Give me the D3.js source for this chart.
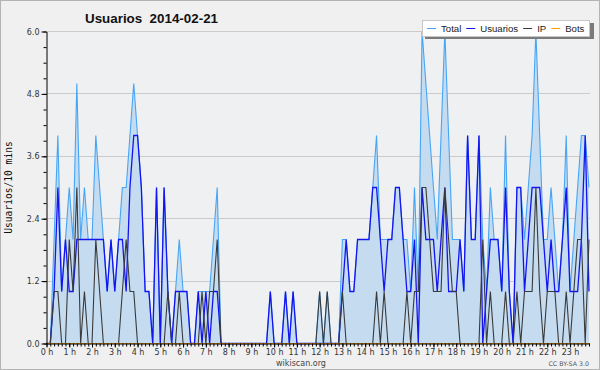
<!DOCTYPE html>
<html>
<head>
<meta charset="utf-8">
<script src="https://cdnjs.cloudflare.com/ajax/libs/d3/7.8.5/d3.min.js"></script>
<style>
    body { margin: 0; background: #f0f0f0; }
</style>
</head>
<body>
<div id="chart"></div>
<script>
// one value per 10 minutes, 2014-02-21 (144 slots)
let total = [
    0, 0, 2, 4, 1, 2, 3, 2, 5, 2, 3, 2,
    2, 4, 3, 2, 1, 2, 1, 2, 3, 3, 4, 5,
    4, 3, 1, 1, 0, 3, 0, 3, 1, 0, 1, 2,
    1, 1, 0, 0, 1, 1, 1, 1, 2, 3, 0, 0,
    0, 0, 0, 0, 0, 0, 0, 0, 0, 0, 0, 1,
    0, 0, 0, 1, 0, 1, 0, 0, 0, 0, 0, 0,
    1, 0, 1, 0, 0, 0, 2, 2, 1, 1, 2, 2,
    2, 2, 3, 4, 2, 2, 2, 2, 3, 3, 2, 2,
    1, 3, 1, 6, 5, 4, 3, 2, 4, 6, 4, 2,
    2, 2, 1, 4, 2, 2, 4, 2, 1, 3, 2, 2,
    1, 4, 1, 0, 3, 3, 2, 3, 4, 6, 4, 2,
    2, 3, 2, 1, 2, 4, 1, 2, 3, 4, 4, 3
]
let usuarios = [
    0, 0, 1, 3, 1, 2, 1, 1, 2, 2, 2, 2,
    2, 2, 2, 2, 1, 2, 1, 2, 2, 1, 3, 4,
    4, 3, 1, 1, 0, 3, 0, 3, 1, 0, 1, 1,
    1, 1, 0, 0, 1, 0, 1, 0, 1, 1, 0, 0,
    0, 0, 0, 0, 0, 0, 0, 0, 0, 0, 0, 1,
    0, 0, 0, 1, 0, 1, 0, 0, 0, 0, 0, 0,
    0, 0, 0, 0, 0, 0, 1, 2, 1, 1, 2, 2,
    2, 2, 3, 3, 2, 1, 2, 2, 3, 3, 2, 1,
    1, 2, 0, 3, 2, 2, 2, 1, 2, 3, 1, 1,
    1, 2, 1, 4, 2, 2, 4, 0, 1, 2, 2, 2,
    1, 3, 1, 0, 3, 3, 1, 2, 3, 3, 3, 2,
    1, 2, 1, 1, 2, 3, 1, 1, 1, 2, 4, 1
]
let ip = [
    0, 0, 1, 1, 0, 0, 2, 1, 3, 0, 1, 0,
    0, 2, 1, 0, 0, 0, 0, 0, 1, 2, 1, 1,
    0, 0, 0, 0, 0, 0, 0, 0, 1, 0, 0, 1,
    0, 0, 0, 0, 0, 1, 0, 1, 1, 2, 0, 0,
    0, 0, 0, 0, 0, 0, 0, 0, 0, 0, 0, 0,
    0, 0, 0, 0, 0, 0, 0, 0, 0, 0, 0, 0,
    1, 0, 1, 0, 0, 0, 1, 0, 0, 0, 0, 0,
    0, 0, 0, 1, 0, 1, 0, 0, 0, 0, 0, 1,
    0, 1, 1, 3, 3, 2, 1, 1, 1, 3, 2, 1,
    1, 0, 0, 0, 0, 0, 0, 2, 0, 1, 0, 0,
    0, 1, 0, 0, 1, 0, 1, 1, 1, 3, 1, 0,
    1, 1, 1, 0, 0, 1, 0, 1, 2, 2, 0, 2
]
let bots = [
    0, 0, 0, 0, 0, 0, 0, 0, 0, 0, 0, 0,
    0, 0, 0, 0, 0, 0, 0, 0, 0, 0, 0, 0,
    0, 0, 0, 0, 0, 0, 0, 0, 0, 0, 0, 0,
    0, 0, 0, 0, 0, 0, 0, 0, 0, 0, 0, 0,
    0, 0, 0, 0, 0, 0, 0, 0, 0, 0, 0, 0,
    0, 0, 0, 0, 0, 0, 0, 0, 0, 0, 0, 0,
    0, 0, 0, 0, 0, 0, 0, 0, 0, 0, 0, 0,
    0, 0, 0, 0, 0, 0, 0, 0, 0, 0, 0, 0,
    0, 0, 0, 0, 0, 0, 0, 0, 0, 0, 0, 0,
    0, 0, 0, 0, 0, 0, 0, 0, 0, 0, 0, 0,
    0, 0, 0, 0, 0, 0, 0, 0, 0, 0, 0, 0,
    0, 0, 0, 0, 0, 0, 0, 0, 0, 0, 0, 0
]
let hourLabels = ['0 h', '1 h', '2 h', '3 h', '4 h', '5 h', '6 h', '7 h', '8 h', '9 h', '10 h', '11 h',
    '12 h', '13 h', '14 h', '15 h', '16 h', '17 h', '18 h', '19 h', '20 h', '21 h', '22 h', '23 h']
let yTicks = [0, 1.2, 2.4, 3.6, 4.8, 6.0]
let seriesNames = ['Total', 'Usuarios', 'IP', 'Bots']
let seriesColors = ['#46a5f5', '#1414f0', '#3a3a3a', '#ffa200']

let width = 600, height = 370
let plot = {left: 46.5, right: 590, top: 31.5, bottom: 343.5}

let svg = d3.select('#chart').append('svg')
    .attr('width', width)
    .attr('height', height)

svg.append('rect')
    .attr('x', 0.5).attr('y', 0.5)
    .attr('width', width - 1).attr('height', height - 1)
    .attr('fill', '#f0f0f0')
    .attr('stroke', '#b4b4b4')

svg.append('rect')
    .attr('x', plot.left).attr('y', plot.top)
    .attr('width', plot.right - plot.left).attr('height', plot.bottom - plot.top)
    .attr('fill', '#eef0f2')

let x = d3.scaleLinear()
    .domain([0, total.length - 1])
    .range([plot.left, 589])
let y = d3.scaleLinear()
    .domain([0, 6])
    .range([plot.bottom, plot.top])

// grid
svg.append('g')
    .selectAll('line')
    .data(yTicks)
    .enter()
    .append('line')
    .attr('x1', plot.left)
    .attr('x2', plot.right)
    .attr('y1', d => Math.round(y(d) - 0.5) + 0.5)
    .attr('y2', d => Math.round(y(d) - 0.5) + 0.5)
    .attr('stroke', '#cbcbcb')

// total area + lines
let area = d3.area()
    .x((d, i) => x(i))
    .y0(y(0))
    .y1(d => y(d))
svg.append('path')
    .datum(total)
    .attr('d', area)
    .attr('fill', '#c5dcf0')

let line = d3.line()
    .x((d, i) => x(i))
    .y(d => y(d))

let series = [total, usuarios, ip, bots]
series.forEach((s, k) => {
    svg.append('path')
        .datum(s)
        .attr('d', line)
        .attr('fill', 'none')
        .attr('stroke', seriesColors[k])
        .attr('stroke-width', k == 1 ? 1.3 : 1.1)
        .attr('stroke-linejoin', 'miter')
})

// y axis
let axis_y = d3.axisLeft(y)
    .tickValues(yTicks)
    .tickFormat(d3.format('.1f'))
    .tickSize(5)
    .tickSizeOuter(0)
    .tickPadding(2)
let gy = svg.append('g')
    .attr('transform', `translate(${plot.left}, 0)`)
    .call(axis_y)
gy.selectAll('text').attr('font-size', 8).attr('fill', '#333').attr('font-family', 'DejaVu Sans')
svg.append('g')
    .attr('transform', `translate(${plot.left}, 0)`)
    .call(d3.axisLeft(y).tickValues(d3.range(0, 6.01, 0.3)).tickSize(3).tickSizeOuter(0).tickFormat(''))
    .select('.domain').remove()

// x axis
let hourTicks = hourLabels.map((d, i) => i * 6)
svg.append('g')
    .attr('transform', `translate(0, ${plot.bottom})`)
    .call(d3.axisBottom(x).tickValues(d3.range(0, total.length)).tickSize(3).tickSizeOuter(0).tickFormat(''))
    .select('.domain').attr('d', `M${plot.left},0.5H${plot.right}`)
let gx = svg.append('g')
    .attr('transform', `translate(0, ${plot.bottom})`)
    .call(d3.axisBottom(x).tickValues(hourTicks).tickSize(4).tickSizeOuter(0).tickPadding(2)
        .tickFormat((d, i) => hourLabels[i]))
gx.select('.domain').remove()
gx.selectAll('text').attr('font-size', 8).attr('fill', '#333').attr('font-family', 'DejaVu Sans')

// titles
svg.append('text')
    .attr('x', 85).attr('y', 23)
    .attr('font-family', 'Liberation Sans')
    .attr('font-weight', 'bold')
    .attr('font-size', 13)
    .attr('fill', '#111')
    .attr('textLength', 133)
    .attr('lengthAdjust', 'spacingAndGlyphs')
    .style('white-space', 'pre')
    .text('Usuarios  2014-02-21')

svg.append('g')
    .attr('transform', `translate(12, ${(plot.top + plot.bottom) / 2}) rotate(-90)`)
    .append('text')
    .attr('text-anchor', 'middle')
    .attr('font-family', 'DejaVu Sans Mono')
    .attr('font-size', 9.6)
    .attr('fill', '#111')
    .text('Usuarios/10 mins')

svg.append('text')
    .attr('x', 301).attr('y', 366)
    .attr('text-anchor', 'middle')
    .attr('font-family', 'DejaVu Sans')
    .attr('font-size', 8)
    .attr('fill', '#444')
    .text('wikiscan.org')

svg.append('text')
    .attr('x', 589).attr('y', 366)
    .attr('text-anchor', 'end')
    .attr('font-family', 'DejaVu Sans')
    .attr('font-size', 6.3)
    .attr('fill', '#555')
    .text('CC BY-SA 3.0')

// legend: lay out entries first, then size the box to them
let legend = svg.append('g')
let shadow = legend.append('rect').attr('fill', '#7a7a7a')
let box = legend.append('rect').attr('fill', '#ffffff').attr('stroke', '#c8c8c8')
let cursor = 4
seriesNames.forEach((name, k) => {
    legend.append('line')
        .attr('x1', cursor + 1).attr('x2', cursor + 10)
        .attr('y1', 8.5).attr('y2', 8.5)
        .attr('stroke', seriesColors[k])
    let t = legend.append('text')
        .attr('x', cursor + 15).attr('y', 12.3)
        .attr('font-family', 'Liberation Sans')
        .attr('font-size', 9.6)
        .attr('fill', '#222')
        .text(name)
    cursor += 15 + t.node().getComputedTextLength() + 4
})
let boxW = Math.ceil(cursor)
box.attr('x', 0.5).attr('y', 0.5).attr('width', boxW).attr('height', 16)
shadow.attr('x', 3).attr('y', 3).attr('width', boxW + 2).attr('height', 16)
legend.attr('transform', `translate(${589 - boxW}, 20)`)
</script>
</body>
</html>
